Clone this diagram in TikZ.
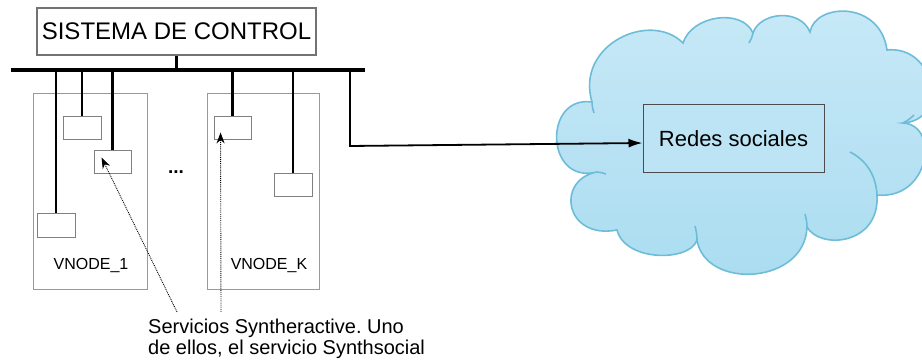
\documentclass[tikz,border=0pt]{standalone}
\usepackage{fontspec}
\setmainfont{Liberation Sans}
\usetikzlibrary{arrows.meta,calc}
\definecolor{cloudtop}{HTML}{C8E9F7}
\definecolor{cloudbot}{HTML}{A9DCF0}
\definecolor{cloudline}{HTML}{6DBDD8}
\definecolor{redesfill}{HTML}{BDE4F4}
\frenchspacing
\begin{document}
\begin{tikzpicture}[x=1pt,y=-1pt,
  ctrlbox/.style={draw=black!55,line width=1.5pt,fill=white,minimum width=279pt,minimum height=47pt,inner sep=0pt,font=\fontsize{24}{28}\selectfont},
  vnodebox/.style={draw=black!40,line width=0.9pt,inner sep=0pt},
  svcbox/.style={draw=black!50,line width=0.9pt,fill=white,inner sep=0pt},
  vlabel/.style={font=\fontsize{16}{19}\selectfont,inner sep=0pt},
  bus/.style={line width=4pt},
  tap/.style={line width=2.6pt},
  dotarrow/.style={densely dotted,line width=0.9pt,-{Stealth[length=11pt,width=8pt]}},
  redesbox/.style={draw=black!70,line width=1pt,fill=redesfill,minimum width=181pt,minimum height=68pt,inner sep=0pt,font=\fontsize{22}{26}\selectfont},
  caption/.style={font=\fontsize{20}{21}\selectfont,align=left,inner sep=0pt,anchor=base west}
]
\useasboundingbox (0,0) rectangle (922,363);

% cloud
\path[top color=cloudtop,bottom color=cloudbot,draw=cloudline,line width=1.6pt]
  (597,172) .. controls (545,185) and (543,95) .. (592,102)
  .. controls (575,45) and (650,10) .. (683,43)
  .. controls (692,15) and (742,8) .. (753,33)
  .. controls (760,12) and (800,8) .. (810,32)
  .. controls (815,3) and (880,0) .. (887,50)
  .. controls (935,45) and (950,120) .. (903,123)
  .. controls (940,125) and (930,200) .. (877,195)
  .. controls (880,245) and (820,250) .. (807,227)
  .. controls (805,285) and (705,290) .. (697,240)
  .. controls (690,262) and (625,262) .. (617,230)
  .. controls (565,240) and (555,180) .. (597,172) -- cycle;
\begin{scope}[draw=cloudline,line width=1.6pt]
  \draw (877,195) .. controls (876,175) and (866,160) .. (850,152);
  \draw (697,240) .. controls (697,234) and (696,230) .. (695,226);
  \draw (807,227) .. controls (807,222) and (806,218) .. (805,214);
  \draw (753,33) .. controls (752,37) and (751,40) .. (749,43);
  \draw (903,123) .. controls (907,121) and (911,118) .. (914,115);
  \draw (597,172) .. controls (600,172) and (603,173) .. (606,174);
  \draw (592,102) .. controls (592,106) and (593,110) .. (594,113);
\end{scope}

% vnode containers
\node[vnodebox,minimum width=114pt,minimum height=196pt] (v1) at (90,191) {};
\node[vnodebox,minimum width=112pt,minimum height=196pt] (vk) at (263,191) {};
\node[vlabel] (v1lab) at (91,266) {VNODE\_1};
\node[vlabel] (vklab) at (269,266) {VNODE\_K};

% service boxes
\node[svcbox,minimum width=38pt,minimum height=24pt] (s1) at (56,225) {};
\node[svcbox,minimum width=38pt,minimum height=23pt] (s2) at (82,127.5) {};
\node[svcbox,minimum width=37pt,minimum height=23pt] (s3) at (112.5,161.5) {};
\node[svcbox,minimum width=37pt,minimum height=23pt] (s4) at (232.5,127.5) {};
\node[svcbox,minimum width=38pt,minimum height=23pt] (s5) at (293,184.5) {};

% control system and bus
\node[ctrlbox] (ctrl) at (176.5,31.5) {SISTEMA DE CONTROL};
\coordinate (busL) at (10.5,70.5);
\coordinate (busR) at (365,70.5);
\draw[bus] (busL) -- (busR);
\draw[line width=3.2pt] (ctrl.south) -- (ctrl.south |- busL);
\foreach \s in {s1,s2,s3,s4,s5}{
  \draw[tap] (\s.north) -- (\s.north |- busL);
}

% dots
\node[font=\fontsize{19}{22}\selectfont\bfseries,inner sep=0pt] (dots) at (176,172) {...};

% redes sociales
\node[redesbox] (redes) at (733.5,139) {Redes sociales};
\coordinate (t6) at (350,70.5);
\coordinate (bend) at (350,146);
\draw[line width=1.8pt,-{Latex[length=14pt,width=9pt]}] (t6) -- (bend) -- ($(redes.west)+(0,4)$);

% caption and dotted pointers
\node[caption] (cap) at (148,355) {Servicios Syntheractive. Uno\\de ellos, el servicio Synthsocial};
\coordinate (p1) at (177,312);
\coordinate (p2) at (221,312);
\draw[dotarrow] (p1) -- ($(s3.north west)+(8,8)$);
\draw[dotarrow] (p2) -- ($(s4.south west)+(7,-7)$);
\end{tikzpicture}
\end{document}
